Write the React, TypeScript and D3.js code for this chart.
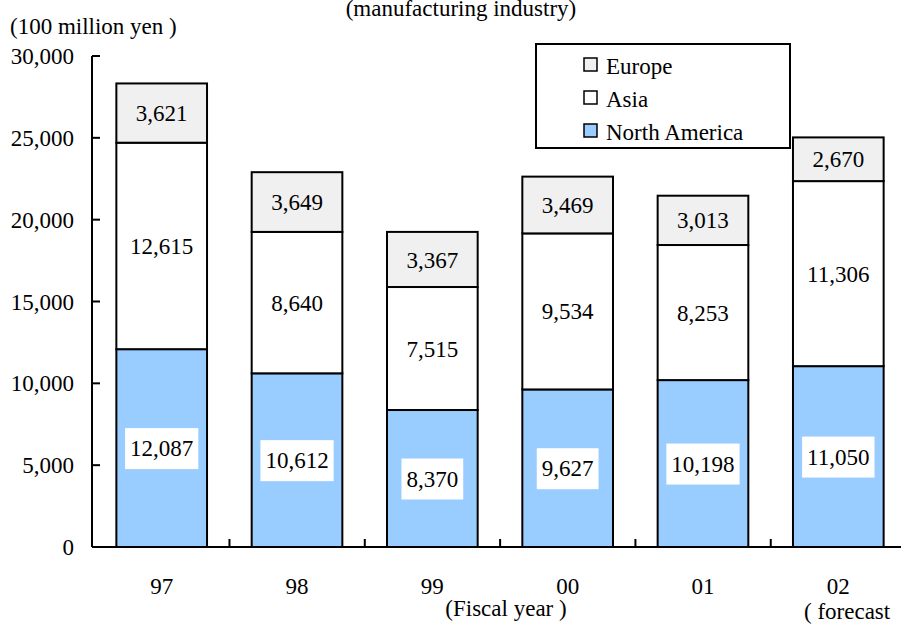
import * as d3 from "d3";
import { useEffect, useRef } from "react";

const years = ["97", "98", "99", "00", "01", "02"];
const northAmerica = [12087, 10612, 8370, 9627, 10198, 11050];
const asia = [12615, 8640, 7515, 9534, 8253, 11306];
const europe = [3621, 3649, 3367, 3469, 3013, 2670];
const yTicks = [0, 5000, 10000, 15000, 20000, 25000, 30000];

const seriesNames = ["North America", "Asia", "Europe"];
const seriesColors = ["#99ccff", "#ffffff", "#f0f0f0"];

const FONT = "Liberation Serif, Times New Roman, serif";
const FS = "23px";

const App = () => {
  const svgRef = useRef<SVGSVGElement>(null);

  useEffect(() => {
    const svg = d3.select(svgRef.current);
    svg.selectAll("*").remove();

    const x0 = 92;
    const yZero = 547;
    const yTop = 56;
    const step = 136;

    const xScale = d3
      .scaleBand()
      .domain(years)
      .range([x0, x0 + step * years.length])
      .paddingInner(0.33)
      .paddingOuter(0.18);

    const yScale = d3.scaleLinear().domain([0, 30000]).range([yZero, yTop]);

    const rows = years.map((y, i) => ({
      year: y,
      "North America": northAmerica[i],
      Asia: asia[i],
      Europe: europe[i],
    }));
    const stacked = d3.stack<any>().keys(seriesNames)(rows);

    // bars
    stacked.forEach((layer, li) => {
      layer.forEach((d, i) => {
        const bx = xScale(years[i])!;
        const y1 = yScale(d[1]);
        const y0 = yScale(d[0]);
        svg
          .append("rect")
          .attr("x", bx)
          .attr("y", y1)
          .attr("width", xScale.bandwidth())
          .attr("height", y0 - y1)
          .attr("fill", seriesColors[li])
          .attr("stroke", "#000")
          .attr("stroke-width", 2);
      });
    });

    // value labels
    stacked.forEach((layer, li) => {
      layer.forEach((d, i) => {
        const cx = xScale(years[i])! + xScale.bandwidth() / 2;
        const cy = (yScale(d[0]) + yScale(d[1])) / 2;
        const label = d3.format(",")(d[1] - d[0]);
        const g = svg.append("g").attr("transform", `translate(${cx},${cy})`);
        if (li === 0) {
          const tmp = g
            .append("text")
            .style("font-family", FONT)
            .style("font-size", FS)
            .text(label);
          const w = (tmp.node() as SVGTextElement).getBBox().width;
          tmp.remove();
          g.append("rect")
            .attr("x", -w / 2 - 5)
            .attr("y", -20)
            .attr("width", w + 10)
            .attr("height", 41)
            .attr("fill", "#fff");
        }
        g.append("text")
          .attr("text-anchor", "middle")
          .attr("dy", "0.35em")
          .style("font-family", FONT)
          .style("font-size", FS)
          .attr("fill", "#000")
          .text(label);
      });
    });

    // y axis
    svg
      .append("line")
      .attr("x1", x0)
      .attr("x2", x0)
      .attr("y1", yScale(30000))
      .attr("y2", yZero)
      .attr("stroke", "#000")
      .attr("stroke-width", 2);
    yTicks.forEach((t) => {
      svg
        .append("line")
        .attr("x1", x0)
        .attr("x2", x0 + 8)
        .attr("y1", yScale(t))
        .attr("y2", yScale(t))
        .attr("stroke", "#000")
        .attr("stroke-width", 2);
      svg
        .append("text")
        .attr("x", 74)
        .attr("y", yScale(t))
        .attr("dy", "0.35em")
        .attr("text-anchor", "end")
        .style("font-family", FONT)
        .style("font-size", FS)
        .text(d3.format(",")(t));
    });

    // x axis
    svg
      .append("line")
      .attr("x1", x0)
      .attr("x2", 901)
      .attr("y1", yZero)
      .attr("y2", yZero)
      .attr("stroke", "#000")
      .attr("stroke-width", 2);
    years.forEach((y) => {
      const tx = xScale(y)! + xScale.bandwidth() + (step * 0.33) / 2;
      svg
        .append("line")
        .attr("x1", tx)
        .attr("x2", tx)
        .attr("y1", yZero)
        .attr("y2", yZero - 8)
        .attr("stroke", "#000")
        .attr("stroke-width", 2);
      svg
        .append("text")
        .attr("x", xScale(y)! + xScale.bandwidth() / 2)
        .attr("y", 594)
        .attr("text-anchor", "middle")
        .style("font-family", FONT)
        .style("font-size", FS)
        .text(y);
    });

    // titles
    const addText = (x: number, y: number, txt: string, anchor = "start") =>
      svg
        .append("text")
        .attr("x", x)
        .attr("y", y)
        .attr("text-anchor", anchor)
        .style("font-family", FONT)
        .style("font-size", FS)
        .text(txt);

    addText(461, 16, "(manufacturing industry)", "middle");
    addText(10, 34, "(100 million yen )");
    addText(506, 616, "(Fiscal year )", "middle");
    addText(804, 619, "( forecast");

    // legend
    svg
      .append("rect")
      .attr("x", 536)
      .attr("y", 44)
      .attr("width", 254)
      .attr("height", 104)
      .attr("fill", "#fff")
      .attr("stroke", "#000")
      .attr("stroke-width", 2);
    const legendOrder = ["Europe", "Asia", "North America"];
    legendOrder.forEach((name, i) => {
      const ly = 66 + i * 33;
      svg
        .append("rect")
        .attr("x", 584)
        .attr("y", ly - 8)
        .attr("width", 13)
        .attr("height", 13)
        .attr("fill", seriesColors[seriesNames.indexOf(name)])
        .attr("stroke", "#000")
        .attr("stroke-width", 1.5);
      svg
        .append("text")
        .attr("x", 606)
        .attr("y", ly)
        .attr("dy", "0.35em")
        .style("font-family", FONT)
        .style("font-size", FS)
        .text(name);
    });
  }, []);

  return (
    <svg
      ref={svgRef}
      width={901}
      height={626}
      style={{ position: "absolute", left: 0, top: 0, background: "#fff" }}
    />
  );
};

export default App;
